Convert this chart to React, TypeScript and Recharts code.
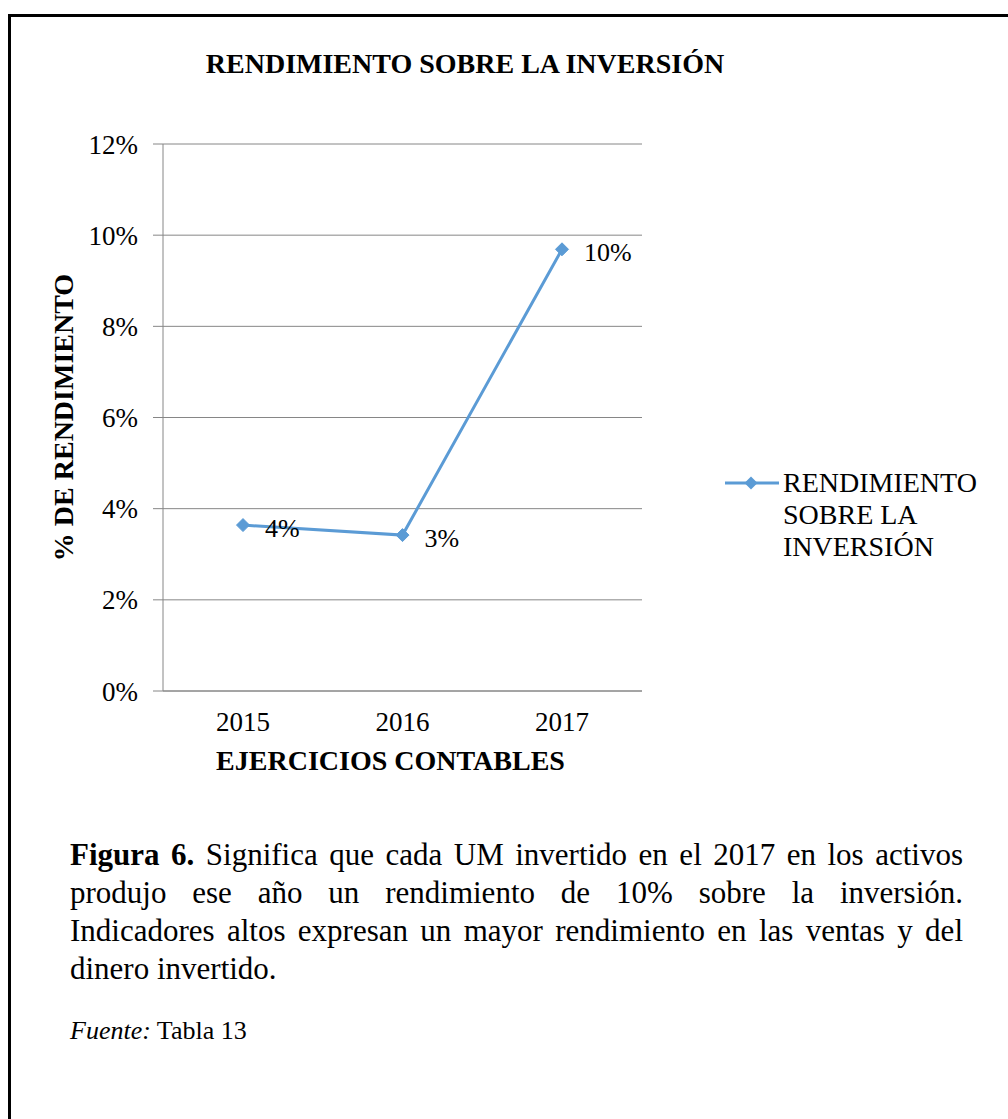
import React from 'react';
import { LineChart, Line, XAxis, YAxis, CartesianGrid, LabelList } from 'recharts';

const years: string[] = ['2015', '2016', '2017'];
const rendimiento: number[] = [3.64, 3.42, 9.69];
const yTicks: number[] = [0, 2, 4, 6, 8, 10, 12];
const seriesName = 'RENDIMIENTO SOBRE LA INVERSIÓN';
const chartTitle = 'RENDIMIENTO SOBRE LA INVERSIÓN';
const yTitle = '% DE RENDIMIENTO';
const xTitle = 'EJERCICIOS CONTABLES';
const captionLines: string[] = [
  'Significa que cada UM invertido en el 2017 en los activos',
  'produjo ese año un rendimiento de 10% sobre la inversión.',
  'Indicadores altos expresan un mayor rendimiento en las ventas y del',
  'dinero invertido.',
];

const data = years.map((y, i) => ({ year: y, value: rendimiento[i] }));

const FONT = '"Liberation Serif", "Times New Roman", serif';
const BLUE = '#5B9BD5';
const GRID = '#868686';

const Diamond = (p: any) => {
  const { cx, cy } = p;
  if (cx == null || cy == null) return null;
  const r = 6.5;
  return (
    <polygon
      key={`d-${p.index}`}
      points={`${cx},${cy - r} ${cx + r},${cy} ${cx},${cy + r} ${cx - r},${cy}`}
      fill={BLUE}
      stroke={BLUE}
    />
  );
};

const DataLabel = (p: any) => {
  const { x, y, value } = p;
  return (
    <text x={x + 22} y={y + 3} dominantBaseline="central" fontSize={26} fontFamily={FONT} fill="#000">
      {`${Math.round(value)}%`}
    </text>
  );
};

const YTitle = (p: any) => {
  const vb = p.viewBox || {};
  const cx = vb.x - 40;
  const cy = vb.y + vb.height / 2;
  return (
    <text
      x={cx}
      y={cy}
      transform={`rotate(-90, ${cx}, ${cy})`}
      textAnchor="middle"
      dominantBaseline="central"
      fontSize={28}
      fontWeight="bold"
      fontFamily={FONT}
      fill="#000"
    >
      {yTitle}
    </text>
  );
};

const XTitle = (p: any) => {
  const vb = p.viewBox || {};
  const cx = vb.x + vb.width / 2 - 12;
  const cy = vb.y + 69;
  return (
    <text
      x={cx}
      y={cy}
      textAnchor="middle"
      dominantBaseline="central"
      fontSize={28}
      fontWeight="bold"
      fontFamily={FONT}
      fill="#000"
    >
      {xTitle}
    </text>
  );
};

const LegendBox = () => (
  <div style={{ position: 'absolute', left: 725, top: 467, display: 'flex', alignItems: 'flex-start', fontFamily: FONT, fontSize: 28, lineHeight: '32px', color: '#000' }}>
    <svg width={54} height={32} style={{ flex: '0 0 auto' }}>
      <line x1={0} y1={16} x2={54} y2={16} stroke={BLUE} strokeWidth={3} />
      <polygon points="26,9.5 32.5,16 26,22.5 19.5,16" fill={BLUE} />
    </svg>
    <div style={{ marginLeft: 4, width: 205 }}>{seriesName}</div>
  </div>
);

const justifyLine: React.CSSProperties = { textAlign: 'justify', textAlignLast: 'justify' as any, whiteSpace: 'nowrap' };

export default function App() {
  return (
    <div style={{ position: 'absolute', left: 0, top: 0, width: 1008, height: 1119, overflow: 'hidden', background: '#fff', fontFamily: FONT }}>
      <div style={{ position: 'absolute', left: 8, top: 14, width: 1010, height: 1120, borderTop: '3px solid #000', borderLeft: '3px solid #000' }} />
      <div style={{ position: 'absolute', left: 0, top: 0 }}>
        <LineChart width={1008} height={800} data={data} margin={{ top: 144, right: 366, bottom: 79, left: 103 }}>
          <CartesianGrid vertical={false} stroke={GRID} strokeWidth={1} />
          <XAxis
            dataKey="year"
            scale="point"
            padding={{ left: 80, right: 80 }}
            height={30}
            interval={0}
            axisLine={{ stroke: GRID }}
            tickLine={false}
            tickMargin={15}
            tick={{ fontSize: 27, fill: '#000', fontFamily: FONT }}
            label={{ content: XTitle }}
          />
          <YAxis
            width={60}
            domain={[0, 12]}
            ticks={yTicks}
            interval={0}
            tickFormatter={(v: number) => `${v}%`}
            axisLine={{ stroke: GRID }}
            tickLine={{ stroke: GRID }}
            tickSize={10}
            tickMargin={15}
            tick={{ fontSize: 27, fill: '#000', fontFamily: FONT }}
            label={{ content: YTitle }}
          />
          <Line
            type="linear"
            dataKey="value"
            name={seriesName}
            stroke={BLUE}
            strokeWidth={3}
            dot={Diamond}
            activeDot={false}
            isAnimationActive={false}
          >
            <LabelList dataKey="value" content={DataLabel} />
          </Line>
        </LineChart>
      </div>
      <LegendBox />
      <div style={{ position: 'absolute', left: 165, top: 47, width: 600, textAlign: 'center', fontSize: 28, fontWeight: 'bold', lineHeight: '34px', color: '#000' }}>
        {chartTitle}
      </div>
      <div style={{ position: 'absolute', left: 70, top: 836, width: 893, fontSize: 31, lineHeight: '38px', color: '#000' }}>
        <div style={justifyLine}><b>Figura 6.</b> {captionLines[0]}</div>
        <div style={justifyLine}>{captionLines[1]}</div>
        <div style={justifyLine}>{captionLines[2]}</div>
        <div style={{ textAlign: 'left', whiteSpace: 'nowrap' }}>{captionLines[3]}</div>
      </div>
      <div style={{ position: 'absolute', left: 70, top: 1016, fontSize: 26, lineHeight: '30px', color: '#000' }}>
        <i>Fuente:</i> Tabla 13
      </div>
    </div>
  );
}
